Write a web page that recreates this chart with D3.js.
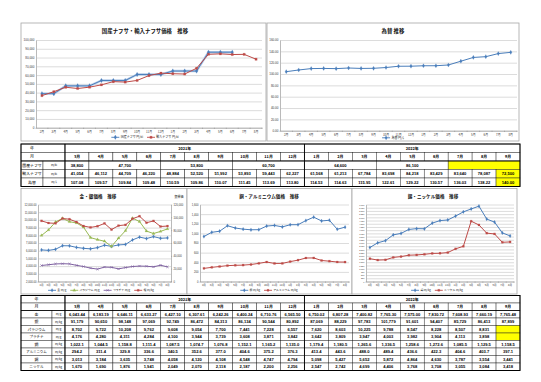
<!DOCTYPE html>
<html><head><meta charset="utf-8">
<script src="https://cdn.jsdelivr.net/npm/d3@7"></script>
<style>body{margin:0;background:#fff}svg{display:block}</style>
</head><body>
<svg id="c" width="541" height="382"></svg>
<script>
// ---------- data (Feb 2021 .. Sep 2022 where 20 values; charts show Feb 2021 .. Aug 2022) ----------
const chartMonths = ["2月","3月","4月","5月","6月","7月","8月","9月","10月","11月","12月","1月","2月","3月","4月","5月","6月","7月","8月"];
const chartKeys = ["2021-2","2021-3","2021-4","2021-5","2021-6","2021-7","2021-8","2021-9","2021-10","2021-11","2021-12","2022-1","2022-2","2022-3","2022-4","2022-5","2022-6","2022-7","2022-8"];
const tableYears = ["2021年","2022年"];
const tableMonths2021 = ["3月","4月","5月","6月","7月","8月","9月","10月","11月","12月"];
const tableMonths2022 = ["1月","2月","3月","4月","5月","6月","7月","8月","9月"];

const domesticNaphthaMonthly = [38800,38800,47700,47700,47700,53800,53800,53800,60700,60700,60700,64600,64600,64600,86100,86100,86100,null,null];
const domesticNaphthaQuarter = [38800,47700,53800,60700,64600,86100,null];
const domesticNaphthaSpan = [1,3,3,3,3,3,3];
const importNaphtha = [36600,41054,46112,44709,46220,48884,52520,51992,53893,59443,62227,61568,61213,67784,83698,84218,83429,83640,78087,72500];
const fxRate = [104.12,107.08,109.57,109.84,109.48,110.59,109.86,110.07,111.45,113.69,113.80,114.53,114.63,115.95,122.61,129.22,130.57,136.03,138.22,140.00];

const gold = [6104.37,6043.44,6183.19,6646.11,6633.27,6427.10,6307.61,6242.26,6400.24,6710.76,6565.50,6750.02,6807.28,7400.82,7765.30,7575.00,7830.72,7608.93,7660.19,7765.48];
const silver = [94500,91179,90650,98148,97069,92749,86472,84313,86134,90544,80892,87069,88229,97783,101779,91601,94407,85729,86413,87899];
const palladium = [7980,8702,9722,10208,9762,9608,9054,7700,7441,7228,6557,7620,8603,10225,9788,8547,8228,8507,8831,null];
const platinum = [4080,4176,4280,4311,4284,4100,3944,3739,3608,3871,3842,3642,3809,3947,4003,3982,3904,4113,3898,null];
const copper = [935.0,1022.1,1044.5,1158.8,1111.4,1087.5,1074.7,1076.8,1152.1,1165.2,1135.0,1179.4,1180.5,1265.6,1336.5,1258.6,1272.6,1085.5,1129.5,1158.5];
const aluminum = [272.5,294.2,311.4,329.8,336.6,340.5,352.6,377.0,404.6,375.2,376.3,413.4,443.6,488.0,489.4,436.6,422.3,404.6,403.7,397.1];
const tin = [2650,3013,3184,3635,3748,4058,4120,4108,4548,4747,4794,5098,5427,5652,5872,4864,4630,3787,3554,3441];
const nickel = [1780,1670,1690,1876,1941,2049,2070,2118,2187,2200,2256,2547,2742,4699,4406,3768,3708,3055,3084,3418];

const naphthaTicks = [0,10000,20000,30000,40000,50000,60000,70000,80000,90000,100000];
const fxTicks = [0,20,40,60,80,100,120,140,160];
const goldTicks = [2000,3000,4000,5000,6000,7000,8000,9000,10000,11000,12000];
const silverTicks = [0,20000,40000,60000,80000,100000,120000];
const copperTicks = [0,200,400,600,800,1000,1200,1400,1600];
const tinTicks = [0,250,500,750,1000,1250,1500,1750,2000,2250,2500,2750,3000,3250,3500,3750,4000,4250,4500,4750,5000,5250,5500,5750,6000];

// ---------- drawing ----------
const svg = d3.select("#c");
const NUM = "'Liberation Sans',Arial,'Noto Sans CJK JP',sans-serif";
const JP = "'Noto Sans CJK JP','Liberation Sans',sans-serif";
const BLUE="#4A7EBB", RED="#BE4B48", GREEN="#98B954", PURPLE="#7D60A0";
const symTimes = d3.symbolTimes || d3.symbolCross;

function drawMarker(sel, shape, color, size){
  const stroke = shape===symTimes;
  sel.attr("d", d3.symbol().type(shape).size(size))
     .attr("fill", stroke ? "none" : color)
     .attr("stroke", color).attr("stroke-width", stroke?0.6:0.2);
}

function drawChart(cfg){
  const g = svg.append("g");
  const [bx0,by0,bx1,by1] = cfg.box;
  g.append("rect").attr("x",bx0).attr("y",by0).attr("width",bx1-bx0).attr("height",by1-by0)
    .attr("fill","#fff").attr("stroke",cfg.boxStroke||"#a6a6a6").attr("stroke-width",0.8);
  g.append("text").attr("x",cfg.titleX).attr("y",cfg.titleY).attr("text-anchor","middle")
    .attr("font-family",JP).attr("font-size",cfg.titleSize).attr("font-weight","bold").attr("fill","#111").text(cfg.title);
  const p = cfg.plot;
  const x = d3.scaleBand().domain(chartKeys).range([p.l,p.r]);
  const y = d3.scaleLinear().domain(cfg.yDomain).range([p.b,p.t]);
  const gy = g.append("g").attr("transform",`translate(${p.l},0)`)
    .call(d3.axisLeft(y).tickValues(cfg.yTicks).tickFormat(cfg.yFmt).tickSize(-(p.r-p.l)).tickSizeOuter(0).tickPadding(1.6));
  gy.select(".domain").attr("stroke","#8c8c8c").attr("stroke-width",0.6);
  gy.selectAll(".tick line").attr("stroke","#b8b8b8").attr("stroke-width",0.5);
  gy.selectAll(".tick text").attr("font-size",cfg.tickFont||3).attr("fill","#333").attr("font-family",NUM);
  let yR = null;
  if (cfg.right){
    yR = d3.scaleLinear().domain(cfg.right.domain).range([p.b,p.t]);
    const gr = g.append("g").attr("transform",`translate(${p.r},0)`)
      .call(d3.axisRight(yR).tickValues(cfg.right.ticks).tickFormat(cfg.right.fmt).tickSize(1.2).tickSizeOuter(0).tickPadding(1.4));
    gr.select(".domain").attr("stroke","#8c8c8c").attr("stroke-width",0.6);
    gr.selectAll(".tick line").attr("stroke","#8c8c8c").attr("stroke-width",0.5);
    gr.selectAll(".tick text").attr("font-size",cfg.tickFont||3).attr("fill","#333").attr("font-family",NUM);
  }
  const gx = g.append("g").attr("transform",`translate(0,${p.b})`)
    .call(d3.axisBottom(x).tickFormat((d,i)=>chartMonths[i]).tickSize(0).tickSizeOuter(0).tickPadding(cfg.xPad||3));
  gx.select(".domain").attr("stroke","#8c8c8c").attr("stroke-width",0.6);
  gx.selectAll(".tick text").attr("font-size",cfg.xFont||2.9).attr("fill","#333").attr("font-family",JP);
  g.append("g").selectAll("line").data(chartKeys.concat([null])).join("line")
    .attr("x1",d=>d?x(d):p.r).attr("x2",d=>d?x(d):p.r).attr("y1",p.b).attr("y2",p.b+1.3)
    .attr("stroke","#8c8c8c").attr("stroke-width",0.5);

  cfg.series.forEach(s=>{
    const ys = s.right ? yR : y;
    const vals = s.values.slice(0, chartKeys.length);
    const cxf = i => x(chartKeys[i]) + x.bandwidth()/2;
    const line = d3.line().defined(d=>d!=null).x((d,i)=>cxf(i)).y(d=>ys(d));
    if (s.halo) g.append("path").attr("d",line(vals)).attr("fill","none").attr("stroke",s.halo).attr("stroke-width",2.4).attr("stroke-linejoin","round");
    g.append("path").attr("d",line(vals)).attr("fill","none").attr("stroke",s.color).attr("stroke-width",s.width||1).attr("stroke-linejoin","round");
    g.append("g").selectAll("path").data(vals.map((v,i)=>({v,i})).filter(d=>d.v!=null)).join("path")
      .attr("transform",d=>`translate(${cxf(d.i)},${ys(d.v)})`)
      .call(sel=>drawMarker(sel,s.shape,s.color,s.msize||5));
  });

  const lg = g.append("g");
  let cx = 0;
  cfg.series.forEach(s=>{
    const it = lg.append("g").attr("transform",`translate(${cx},0)`);
    it.append("line").attr("x1",0).attr("x2",8).attr("y1",0).attr("y2",0).attr("stroke",s.color).attr("stroke-width",0.9);
    it.append("path").attr("transform","translate(4,0)").call(sel=>drawMarker(sel,s.shape,s.color,s.msize||5));
    const t = it.append("text").attr("x",9.3).attr("y",1.1).attr("font-family",JP).attr("font-size",cfg.legendFont||3).attr("fill","#222").text(s.name);
    cx += 9.3 + t.node().getComputedTextLength() + 4;
  });
  lg.attr("transform",`translate(${cfg.legendX-(cx-4)/2},${cfg.legendY})`);

  if (cfg.note){
    g.append("text").attr("x",cfg.note.x).attr("y",cfg.note.y).attr("text-anchor","middle")
      .attr("font-family",JP).attr("font-size",3).attr("fill","#222").text(cfg.note.text);
  }
}

// top-left: naphtha
drawChart({
  box:[21,23,266,141], title:"国産ナフサ・輸入ナフサ価格　推移", titleX:145, titleY:33, titleSize:5.4,
  plot:{l:36,r:262,t:40,b:127.7}, yDomain:[0,100000], yTicks:naphthaTicks, yFmt:d3.format(","),
  legendX:145, legendY:137.3, xPad:3.3,
  series:[
    {name:"国産ナフサ 円/kl", values:domesticNaphthaMonthly, color:BLUE, shape:d3.symbolDiamond, halo:"#bcd0ea", msize:6},
    {name:"輸入ナフサ 円/kl", values:importNaphtha, color:RED, shape:d3.symbolSquare, msize:5}
  ]
});
// top-right: exchange rate
drawChart({
  box:[267,23,519,141], title:"為替 推移", titleX:393, titleY:33, titleSize:5.4,
  plot:{l:280,r:517,t:40,b:130.7}, yDomain:[0,160], yTicks:fxTicks, yFmt:d3.format(".2f"),
  legendX:393, legendY:137.8, xPad:3.2,
  series:[{name:"為替 円/$", values:fxRate, color:BLUE, shape:d3.symbolDiamond, msize:5}]
});
// bottom-left: precious metals
drawChart({
  box:[21,188.5,187,294], title:"金・銀価格　推移", titleX:98, titleY:198, titleSize:4.6,
  plot:{l:38,r:171,t:204.5,b:281.5}, yDomain:[2000,12000], yTicks:goldTicks, yFmt:d3.format(",.2f"),
  tickFont:2.7,
  right:{domain:[0,120000], ticks:silverTicks, fmt:d3.format(",")},
  legendX:101, legendY:290.3, legendFont:2.8, xFont:2.6,
  note:{x:179, y:198, text:"銀単価"},
  series:[
    {name:"金 円/g", values:gold, color:BLUE, shape:d3.symbolDiamond, msize:4},
    {name:"パラジウム 円/g", values:palladium, color:GREEN, shape:d3.symbolTriangle, msize:4},
    {name:"プラチナ 円/g", values:platinum, color:PURPLE, shape:symTimes, msize:4},
    {name:"銀 円/kg", values:silver, color:RED, shape:d3.symbolSquare, right:true, msize:4}
  ]
});
// bottom-middle: copper & aluminium
drawChart({
  box:[187,188.5,352,294], title:"銅・アルミニウム価格　推移", titleX:269, titleY:198, titleSize:4.6,
  plot:{l:200,r:349,t:204.5,b:281.5}, yDomain:[0,1600], yTicks:copperTicks, yFmt:d3.format(","),
  tickFont:2.7, legendX:269, legendY:290.3, legendFont:2.8, xFont:2.6,
  series:[
    {name:"銅 円/kg", values:copper, color:BLUE, shape:d3.symbolDiamond, msize:4},
    {name:"アルミニウム 円/kg", values:aluminum, color:RED, shape:d3.symbolSquare, msize:4}
  ]
});
// bottom-right: tin & nickel
drawChart({
  box:[352,188.5,517,294], title:"錫・ニッケル価格　推移", titleX:433, titleY:198, titleSize:4.6,
  plot:{l:366,r:514,t:204.5,b:281.5}, yDomain:[0,6000], yTicks:tinTicks, yFmt:d3.format(","),
  tickFont:2.1, legendX:437, legendY:290.3, legendFont:2.8, xFont:2.6,
  series:[
    {name:"錫 円/kg", values:tin, color:BLUE, shape:d3.symbolDiamond, msize:4},
    {name:"ニッケル 円/kg", values:nickel, color:RED, shape:d3.symbolSquare, msize:4}
  ]
});

// ---------- tables ----------
const tableKeys = tableMonths2021.map(m=>"2021年"+m).concat(tableMonths2022.map(m=>"2022年"+m));
const tableMonthLabels = tableMonths2021.concat(tableMonths2022);

function drawTable(cfg){
  const g = svg.append("g");
  const {x0,nameX1,unitX1,x1,y0,rowH} = cfg;
  const col = d3.scaleBand().domain(tableKeys).range([unitX1,x1]);
  const bw = col.bandwidth();
  const yS = d3.scaleBand().domain(d3.range(cfg.rows.length)).range([y0, y0+rowH*cfg.rows.length]);
  const cells = [];
  cfg.rows.forEach((r,ri)=>{
    const yt = yS(ri);
    if (r.header){
      cells.push({x:x0,w:unitX1-x0,y:yt,text:r.name,tx:(x0+nameX1)/2,font:JP,size:4,bold:false});
    } else {
      cells.push({x:x0,w:nameX1-x0,y:yt,text:r.name,tx:(x0+nameX1)/2,font:JP,size:r.nameSize||3.9,bold:false});
      cells.push({x:nameX1,w:unitX1-nameX1,y:yt,text:r.unit,tx:(nameX1+unitX1)/2,font:JP,size:2.8,bold:false});
    }
    let ci = 0;
    r.cells.forEach(c=>{
      const xs = col(tableKeys[ci]);
      const w = bw*(c.span||1);
      cells.push({x:xs,w,y:yt,text:c.text,tx:xs+w/2,font:r.header?JP:NUM,size:r.header?3.9:4.1,bold:true,fill:c.fill});
      ci += (c.span||1);
    });
  });
  g.selectAll("rect.cell").data(cells).join("rect").attr("class","cell")
    .attr("x",d=>d.x).attr("y",d=>d.y).attr("width",d=>d.w).attr("height",rowH)
    .attr("fill",d=>d.fill||"#fff").attr("stroke","#222").attr("stroke-width",0.45);
  g.selectAll("text").data(cells.filter(d=>d.text)).join("text")
    .attr("x",d=>d.tx).attr("y",d=>d.y+rowH/2+d.size*0.36).attr("text-anchor","middle")
    .attr("font-family",d=>d.font).attr("font-size",d=>d.size).attr("font-weight",d=>d.bold?"bold":"normal")
    .attr("fill","#000").text(d=>d.text);
  const H = rowH*cfg.rows.length;
  g.append("rect").attr("x",x0).attr("y",y0).attr("width",x1-x0).attr("height",H).attr("fill","none").attr("stroke","#000").attr("stroke-width",1);
  g.append("line").attr("x1",unitX1).attr("x2",unitX1).attr("y1",y0).attr("y2",y0+H).attr("stroke","#000").attr("stroke-width",0.9);
  const xSplit = col(tableKeys[tableMonths2021.length]);
  g.append("line").attr("x1",xSplit).attr("x2",xSplit).attr("y1",y0).attr("y2",y0+H).attr("stroke","#000").attr("stroke-width",0.9);
  g.append("line").attr("x1",x0).attr("x2",x1).attr("y1",y0+rowH*2).attr("y2",y0+rowH*2).attr("stroke","#000").attr("stroke-width",0.8);
}

const YELLOW = "#FFFF00";
function headerRows(){
  return [
    {header:true,name:"年",cells:[{text:tableYears[0],span:tableMonths2021.length},{text:tableYears[1],span:tableMonths2022.length}]},
    {header:true,name:"月",cells:tableMonthLabels.map(m=>({text:m}))}
  ];
}
function valueRow(name,unit,values,fmt,highlightLast,nameSize){
  const vals = values.slice(1);
  return {name,unit,nameSize,cells:vals.map((v,i)=>({
    text: v==null ? "" : fmt(v),
    fill: (v==null || (highlightLast && i===vals.length-1)) ? YELLOW : null
  }))};
}
const fInt = d3.format(","), f2 = d3.format(",.2f"), f1 = d3.format(",.1f");

drawTable({
  x0:21, nameX1:43, unitX1:65, x1:520, y0:144, rowH:8.5,
  rows: headerRows().concat([
    {name:"国産ナフサ",unit:"円/kl",cells:domesticNaphthaQuarter.map((v,i)=>({text:v==null?"":fInt(v),span:domesticNaphthaSpan[i],fill:v==null?YELLOW:null}))},
    valueRow("輸入ナフサ","円/kl",importNaphtha,fInt,true),
    valueRow("為替","円/$",fxRate,d3.format(".2f"),true)
  ])
});

drawTable({
  x0:21, nameX1:52, unitX1:65, x1:520, y0:295.5, rowH:7.5,
  rows: headerRows().concat([
    valueRow("金","円/g",gold,f2,false),
    valueRow("銀","円/kg",silver,fInt,false),
    valueRow("パラジウム","円/g",palladium,fInt,false,3.6),
    valueRow("プラチナ","円/g",platinum,fInt,false,3.6),
    valueRow("銅","円/kg",copper,f1,false),
    valueRow("アルミニウム","円/kg",aluminum,f1,false,3.4),
    valueRow("錫","円/kg",tin,fInt,false),
    valueRow("ニッケル","円/kg",nickel,fInt,false,3.6)
  ])
});
</script>
</body></html>
